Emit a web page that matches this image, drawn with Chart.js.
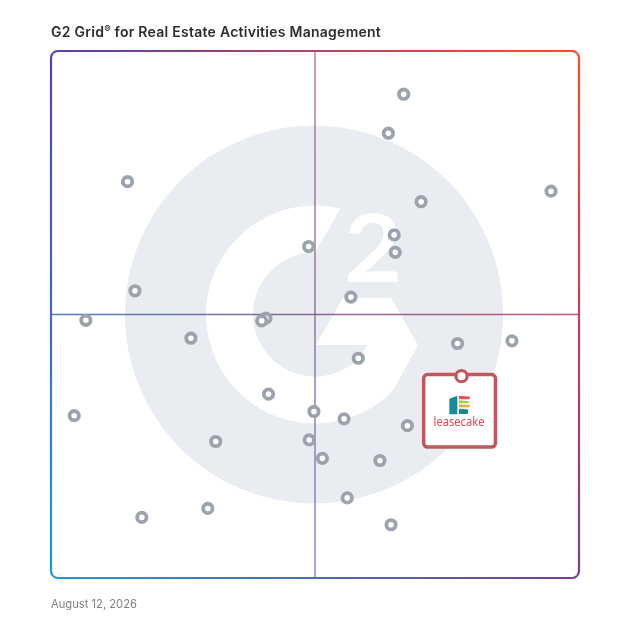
<!DOCTYPE html>
<html><head><meta charset="utf-8">
<script src="https://cdn.jsdelivr.net/npm/chart.js@4.4.1/dist/chart.umd.min.js"></script>
<style>
html,body{margin:0;padding:0;background:#fff;}
#wrap{position:relative;width:628px;height:628px;overflow:hidden;}
canvas{position:absolute;left:0;top:0;}
#title{position:absolute;left:51px;top:21px;font:600 14px/16px Inter, "Noto Sans", sans-serif;letter-spacing:0.26px;color:#2e2e2e;white-space:nowrap;}
#title .reg{font-size:10px;vertical-align:4px;letter-spacing:0;}
#date{position:absolute;left:51px;top:597px;font:400 11.2px/14px Inter, "Noto Sans", sans-serif;color:#808080;white-space:nowrap;}
</style></head><body>
<div id="wrap">
<canvas id="c" width="628" height="628"></canvas>
<div id="title">G2 Grid<span class="reg">®</span> for Real Estate Activities Management</div>
<div id="date">August 12, 2026</div>
</div>
<script>
const satisfaction   = [66.8, 63.9, 14.5, 94.7, 70.1, 65.0, 48.8, 65.2, 15.9, 56.8, 6.6, 40.7, 39.9, 26.5, 77.0, 87.3, 58.2, 41.2, 4.4, 49.8, 55.5, 67.5, 31.2, 48.9, 51.4, 62.3, 56.1, 29.7, 17.2, 64.4];
const marketPresence = [91.8, 84.4, 75.2, 73.4, 71.4, 65.1, 62.9, 61.8, 54.5, 53.3, 48.9, 49.3, 48.8, 45.5, 44.5, 45.0, 41.7, 34.9, 30.8, 31.6, 30.2, 28.9, 25.9, 26.2, 22.7, 22.3, 15.2, 13.2, 11.5, 10.1];
const featuredName = ['leasecake'];
const featuredX = [77.75];
const featuredY = [38.3];
const axisMin = 0, axisMax = 100, quadrantSplit = 50;

const deg = Math.PI / 180;

const backgroundPlugin = {
  id: 'g2background',
  beforeDatasetsDraw(chart) {
    const { ctx, chartArea: ca, scales: { x, y } } = chart;
    const cx = x.getPixelForValue(quadrantSplit), cy = y.getPixelForValue(quadrantSplit);
    const k = (ca.right - ca.left) / 528;
    const P = (a, b) => [cx + a * k, cy + b * k];
    ctx.save();
    // gray disc
    ctx.fillStyle = '#e9ecf0';
    ctx.beginPath(); ctx.arc(cx - 1 * k, cy, 189 * k, 0, Math.PI * 2); ctx.fill();
    // white "G"
    const ro = 109 * k, ri = 62 * k;
    ctx.fillStyle = '#ffffff';
    ctx.beginPath();
    ctx.arc(cx, cy, ro, -76.5 * deg, 44.4 * deg, true);
    ctx.lineTo(...P(103, 30.5));
    ctx.lineTo(...P(75.9, -16.5));
    ctx.lineTo(...P(28, -16.5));
    ctx.lineTo(...P(0.9, 30.5));
    ctx.lineTo(...P(52, 30.5));
    ctx.lineTo(...P(44.9, 42.7));
    ctx.arc(cx, cy, ri, 43.6 * deg, 270 * deg, false);
    ctx.closePath(); ctx.fill();
    // white "2"
    ctx.font = 'bold 100px Lato, "DejaVu Sans", sans-serif';
    ctx.textAlign = 'left'; ctx.textBaseline = 'alphabetic';
    const m = ctx.measureText('2');
    const gw = m.actualBoundingBoxLeft + m.actualBoundingBoxRight;
    const gh = m.actualBoundingBoxAscent + m.actualBoundingBoxDescent;
    ctx.save();
    ctx.translate(cx + 32 * k, cy - 101.5 * k);
    ctx.scale(51 * k / gw, 69 * k / gh);
    ctx.fillText('2', m.actualBoundingBoxLeft, m.actualBoundingBoxAscent);
    ctx.restore();

    const L = ca.left, R = ca.right, T = ca.top, B = ca.bottom;
    // quadrant lines
    let g = ctx.createLinearGradient(L, cy, R, cy);
    g.addColorStop(0, '#3c6dc0'); g.addColorStop(0.5, '#7d5891'); g.addColorStop(1, '#c2435f');
    ctx.globalAlpha = 0.9; ctx.strokeStyle = g; ctx.lineWidth = 1.5;
    ctx.beginPath(); ctx.moveTo(L, cy); ctx.lineTo(R, cy); ctx.stroke();
    g = ctx.createLinearGradient(cx, T, cx, B);
    g.addColorStop(0, '#a45c98'); g.addColorStop(0.5, '#7d5891'); g.addColorStop(1, '#6a70c8');
    ctx.globalAlpha = 0.75; ctx.strokeStyle = g; ctx.lineWidth = 1.6;
    ctx.beginPath(); ctx.moveTo(cx, T); ctx.lineTo(cx, B); ctx.stroke();
    ctx.globalAlpha = 1;

    // gradient frame
    const rad = 7;
    const cTL = '#5b3fa9', cTR = '#ff4b29', cBL = '#1d9bd7', cBR = '#7d3a99';
    ctx.lineWidth = 2.2;
    const side = (x0, y0, x1, y1, c0, c1, path) => {
      const gg = ctx.createLinearGradient(x0, y0, x1, y1);
      gg.addColorStop(0, c0); gg.addColorStop(1, c1);
      ctx.strokeStyle = gg; ctx.beginPath(); path(); ctx.stroke();
    };
    side(L, T, R, T, cTL, cTR, () => { ctx.arc(L + rad, T + rad, rad, 225 * deg, 270 * deg); ctx.lineTo(R - rad, T); ctx.arc(R - rad, T + rad, rad, 270 * deg, 315 * deg); });
    side(R, T, R, B, cTR, cBR, () => { ctx.arc(R - rad, T + rad, rad, 315 * deg, 360 * deg); ctx.lineTo(R, B - rad); ctx.arc(R - rad, B - rad, rad, 0, 45 * deg); });
    side(R, B, L, B, cBR, cBL, () => { ctx.arc(R - rad, B - rad, rad, 45 * deg, 90 * deg); ctx.lineTo(L + rad, B); ctx.arc(L + rad, B - rad, rad, 90 * deg, 135 * deg); });
    side(L, B, L, T, cBL, cTL, () => { ctx.arc(L + rad, B - rad, rad, 135 * deg, 180 * deg); ctx.lineTo(L, T + rad); ctx.arc(L + rad, T + rad, rad, 180 * deg, 225 * deg); });
    ctx.restore();
  }
};

const featuredPlugin = {
  id: 'featuredCard',
  beforeDatasetDraw(chart, args) {
    if (args.index !== 1) return;
    const el = chart.getDatasetMeta(1).data[0];
    if (!el) return;
    const px = el.x, py = el.y;
    const ctx = chart.ctx;
    ctx.save();
    ctx.beginPath(); ctx.roundRect(px - 37.85, py - 1.55, 71.8, 72.5, 4);
    ctx.fillStyle = '#ffffff'; ctx.fill();
    ctx.lineWidth = 3.5; ctx.strokeStyle = '#c2585c'; ctx.stroke();
    // icon
    ctx.fillStyle = '#17899b';
    ctx.beginPath();
    ctx.moveTo(px - 12.2, py + 22.5); ctx.lineTo(px - 4.2, py + 19.7);
    ctx.lineTo(px - 4.2, py + 38); ctx.lineTo(px - 12.2, py + 38); ctx.closePath(); ctx.fill();
    const stripe = (c, y0, y1, xr) => {
      ctx.fillStyle = c; ctx.beginPath();
      ctx.moveTo(px - 2.6, py + y0); ctx.lineTo(px + xr, py + y0 + 0.8);
      ctx.lineTo(px + xr - 0.6, py + y1); ctx.lineTo(px - 2.6, py + y1); ctx.closePath(); ctx.fill();
    };
    stripe('#f0494f', 19.7, 23.2, 8.6);
    stripe('#a9cf3e', 24.2, 27.2, 7.6);
    stripe('#f7a540', 28.2, 31.2, 8.6);
    stripe('#17899b', 32.6, 37.8, 6.8);
    // name
    ctx.font = '400 12.5px "Noto Sans", Roboto, sans-serif';
    ctx.fillStyle = '#e9434d'; ctx.textAlign = 'left'; ctx.textBaseline = 'alphabetic';
    const tw = ctx.measureText(featuredName[0]).width;
    ctx.save();
    ctx.translate(px - 2.5 - 25.5, py + 49.5);
    ctx.scale(51 / tw, 1);
    ctx.fillText(featuredName[0], 0, 0);
    ctx.restore();
    ctx.restore();
  }
};

new Chart(document.getElementById('c'), {
  type: 'scatter',
  data: {
    datasets: [
      {
        label: 'Products',
        data: satisfaction.map((v, i) => ({ x: v, y: marketPresence[i] })),
        pointRadius: 4.7, pointHoverRadius: 4.7, pointBorderWidth: 3.8,
        pointBackgroundColor: '#ffffff', pointBorderColor: '#9da3ae',
        order: 2
      },
      {
        label: featuredName[0],
        data: featuredX.map((v, i) => ({ x: v, y: featuredY[i] })),
        pointRadius: 5.6, pointHoverRadius: 5.6, pointBorderWidth: 3.2,
        pointBackgroundColor: '#ffffff', pointBorderColor: '#c2585c',
        order: 1
      }
    ]
  },
  options: {
    responsive: false, animation: false, devicePixelRatio: window.devicePixelRatio || 1,
    layout: { padding: { left: 51, right: 49, top: 51, bottom: 50 } },
    scales: {
      x: { type: 'linear', min: axisMin, max: axisMax, display: false },
      y: { type: 'linear', min: axisMin, max: axisMax, display: false }
    },
    plugins: { legend: { display: false }, tooltip: { enabled: false }, title: { display: false } },
    events: []
  },
  plugins: [backgroundPlugin, featuredPlugin]
});
</script>
</body></html>
